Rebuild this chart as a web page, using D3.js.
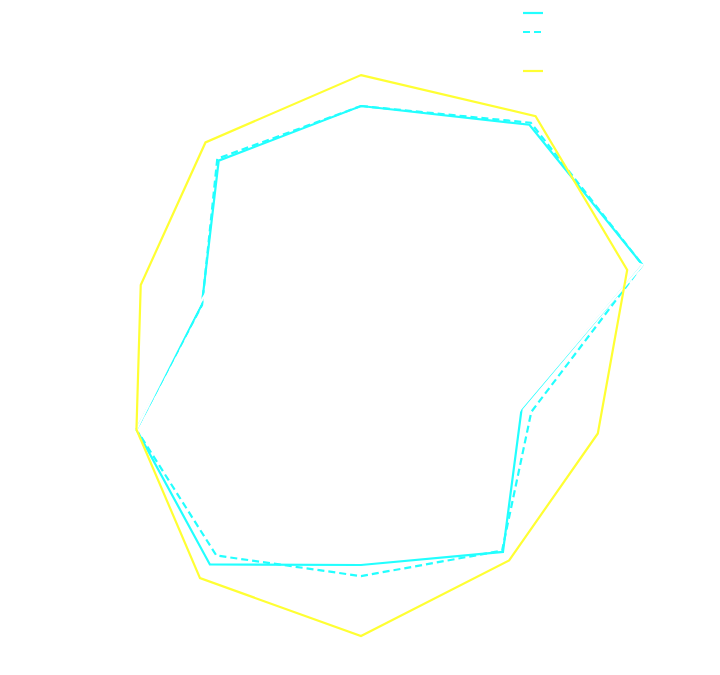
<!DOCTYPE html>
<html>
<head>
<meta charset="utf-8">
<script src="https://cdn.jsdelivr.net/npm/d3@7"></script>
<style>
  html, body { margin: 0; padding: 0; background: #ffffff; }
  svg { display: block; font-family: "Open Sans", "DejaVu Sans", sans-serif; }
</style>
</head>
<body>
<svg id="chart" width="720" height="675"></svg>
<script>
// ---- data ----
const axes = ["A", "B", "C", "D", "E", "F", "G", "H", "I", "J"];
const seriesNames = ["Series 1", "Series 2", "Series 3", "Series 4"];
const series1 = [83.5, 95.5, 98.7, 56.3, 80.5, 69.5, 85.7, 78.7, 55.8, 80.7];
const series2 = [83.5, 96.3, 98.7, 59.7, 80.0, 73.2, 82.0, 78.7, 55.7, 81.5];
const series3 = [60.0, 60.0, 98.7, 56.0, 60.0, 60.0, 60.0, 78.7, 56.6, 60.0];
const series4 = [93.8, 99.0, 93.3, 83.0, 84.0, 93.2, 91.3, 78.7, 77.2, 88.2];

// ---- styles ----
const styles = [
  { color: "#22ffff", dash: null },
  { color: "#22ffff", dash: "7,4" },
  { color: "#ffffff", dash: null },
  { color: "#ffff33", dash: null }
];
const allSeries = [series1, series2, series3, series4];

const svg = d3.select("#chart");
const cx = 361, cy = 356.5, R = 300;

const r = d3.scaleLinear().domain([0, 100]).range([0, R]);
const angle = d3.scalePoint().domain(axes.concat(["_end"])).range([0, 2 * Math.PI]);

const g = svg.append("g").attr("transform", `translate(${cx},${cy})`);

// invisible (white) grid and labels, as in the reference
g.selectAll("line.axis").data(axes).join("line")
  .attr("class", "axis")
  .attr("x1", 0).attr("y1", 0)
  .attr("x2", d => R * Math.sin(angle(d)))
  .attr("y2", d => -R * Math.cos(angle(d)))
  .attr("stroke", "#ffffff").attr("stroke-width", 1);

g.selectAll("text.axislabel").data(axes).join("text")
  .attr("class", "axislabel")
  .attr("x", d => (R + 4) * Math.sin(angle(d)))
  .attr("y", d => -(R + 4) * Math.cos(angle(d)))
  .attr("text-anchor", "middle").attr("dominant-baseline", "middle")
  .attr("font-size", 11).attr("fill", "#ffffff")
  .text(d => d);

const line = d3.lineRadial()
  .angle((d, i) => angle(axes[i]))
  .radius(d => r(d))
  .curve(d3.curveLinearClosed);

allSeries.forEach((vals, k) => {
  g.append("path")
    .datum(vals)
    .attr("d", line)
    .attr("fill", "none")
    .attr("stroke", styles[k].color)
    .attr("stroke-width", 2.2)
    .attr("stroke-linejoin", "miter")
    .attr("stroke-dasharray", styles[k].dash);
});

// legend
const legend = svg.append("g").attr("transform", "translate(523,13)");
const legendY = [0, 19, 39, 58];
seriesNames.forEach((name, k) => {
  const item = legend.append("g").attr("transform", `translate(0,${legendY[k]})`);
  item.append("line")
    .attr("x1", 0).attr("x2", 20).attr("y1", 0).attr("y2", 0)
    .attr("stroke", styles[k].color).attr("stroke-width", 2.2)
    .attr("stroke-dasharray", styles[k].dash);
  item.append("text")
    .attr("x", 26).attr("y", 4)
    .attr("font-size", 12).attr("fill", "#ffffff")
    .text(name);
});
</script>
</body>
</html>
